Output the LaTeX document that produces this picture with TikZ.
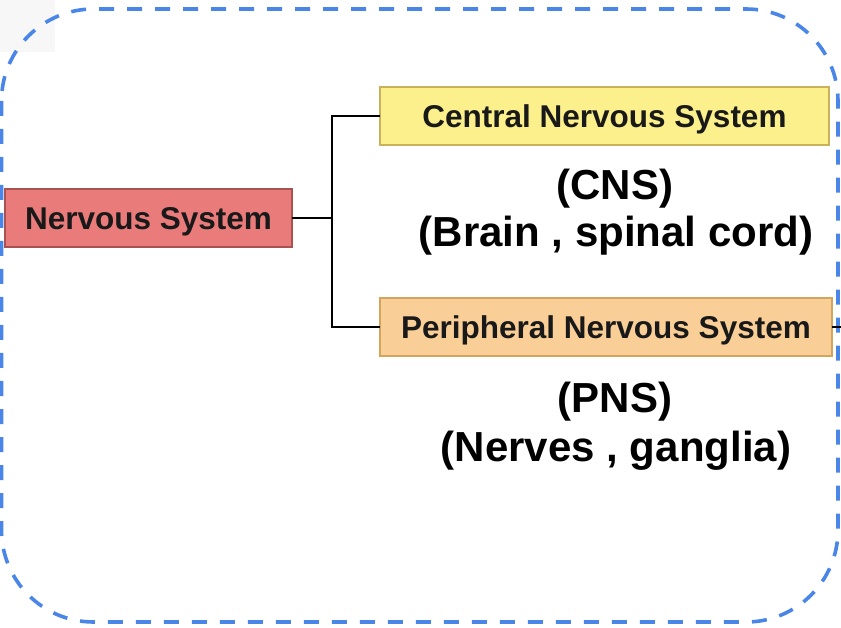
\documentclass[tikz,border=0pt]{standalone}
\usepackage{fontspec}
\setmainfont{Liberation Sans}
\begin{document}
\begin{tikzpicture}[x=1pt,y=-1pt,
  box/.style={draw, line width=1.6pt, minimum height=58pt, inner sep=0pt, outer sep=0pt, text height=22.6pt, text depth=0pt, font=\fontsize{31.5}{36}\selectfont\bfseries, text=black!90},
  conn/.style={draw=black, line width=2.8pt},
  lbl/.style={font=\fontsize{42}{48}\selectfont\bfseries, anchor=base, inner sep=0pt},
  frame/.style={line width=3.6pt, dash pattern=on 15pt off 13pt, rounded corners=92pt}]
\definecolor{nsfill}{HTML}{E97B7B}
\definecolor{nsline}{HTML}{A85252}
\definecolor{cnsfill}{HTML}{FBF08B}
\definecolor{cnsline}{HTML}{C8B25C}
\definecolor{pnsfill}{HTML}{F9CF97}
\definecolor{pnsline}{HTML}{D3A45C}
\definecolor{framecol}{HTML}{4A86E8}
\useasboundingbox (0,0) rectangle (841,628);
\fill[black!3] (0,0) rectangle (55,52);
\draw[frame, draw=framecol] (1.5,9) rectangle (838,622);
\node[box, fill=nsfill, draw=nsline, minimum width=287pt] (ns) at (148.5,218) {Nervous System};
\node[box, fill=cnsfill, draw=cnsline, minimum width=449pt] (cns) at (604.5,116) {Central Nervous System};
\node[box, fill=pnsfill, draw=pnsline, minimum width=452pt] (pns) at (606,327) {Peripheral Nervous System};
\coordinate (j) at (332,218);
\coordinate (stub) at (841,327);
\draw[conn] (ns.east) -- (j);
\draw[conn] (cns.west) -| (j) |- (pns.west);
\draw[conn] (pns.east) -- (stub);
\node[lbl] (cnsa) at (615,200) {(CNS)};
\node[lbl] (cnsb) at (616,247) {(Brain , spinal cord)};
\node[lbl] (pnsa) at (615,412) {(PNS)};
\node[lbl] (pnsb) at (616,461) {(Nerves , ganglia)};
\end{tikzpicture}
\end{document}
